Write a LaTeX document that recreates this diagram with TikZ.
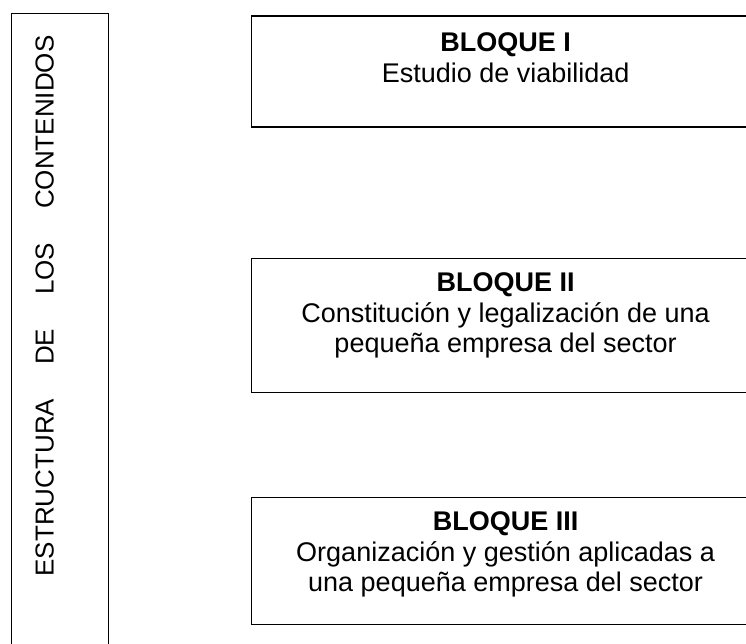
\documentclass[tikz,border=0pt]{standalone}
\usepackage{fontspec}
\setmainfont{Liberation Sans}
\begin{document}
\begin{tikzpicture}[x=1pt,y=-1pt,
  frame/.style={draw=black,line width=1.2pt,rectangle,inner sep=0pt,anchor=north west},
  body/.style={anchor=north,inner sep=0pt,align=center,font=\fontsize{27}{30.5}\selectfont},
  side/.style={inner sep=0pt,font=\fontsize{26}{30}\selectfont,rotate=90}]
\useasboundingbox (0,0) rectangle (746,644);
\clip (0,0) rectangle (746,644);
\node[frame,minimum width=97pt,minimum height=640pt] (left) at (11,13) {};
\node[frame,minimum width=508pt,minimum height=111pt] (b1) at (251,15.5) {};
\node[frame,minimum width=508pt,minimum height=134pt] (b2) at (251,257.5) {};
\node[frame,minimum width=508pt,minimum height=127pt] (b3) at (251,496.5) {};
\node[body] (t1) at ([yshift=-17pt]b1.north) {\textbf{BLOQUE I}\\Estudio de viabilidad};
\node[body] (t2) at ([yshift=-15pt]b2.north) {\textbf{BLOQUE II}\\Constitución y legalización de una\\pequeña empresa del sector};
\node[body] (t3) at ([yshift=-15pt]b3.north) {\textbf{BLOQUE III}\\Organización y gestión aplicadas a\\una pequeña empresa del sector};
\node[side,anchor=south] (vt) at (54,306) {\makebox[541pt][s]{ESTRUCTURA\hfill DE\hfill LOS\hfill CONTENIDOS}};
\end{tikzpicture}
\end{document}
